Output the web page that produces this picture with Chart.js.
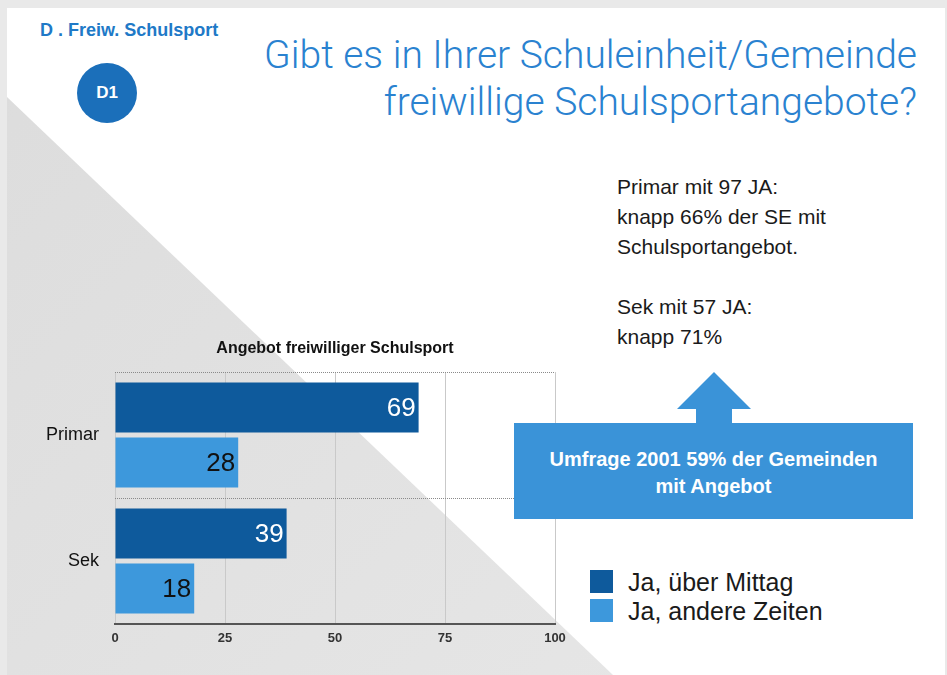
<!DOCTYPE html>
<html>
<head>
<meta charset="utf-8">
<script src="https://cdn.jsdelivr.net/npm/chart.js@4"></script>
<style>
  html, body { margin: 0; padding: 0; }
  body { width: 947px; height: 675px; background: #e9e9e9; position: relative; overflow: hidden;
         font-family: "Liberation Sans", Arial, Helvetica, sans-serif; }
  #slide { position: absolute; left: 7px; top: 8px; width: 938px; height: 667px; background: #fff; }
  #tri { position: absolute; left: 0; top: 0; width: 947px; height: 675px;
         background: linear-gradient(135deg, #dcdcdc, #e8e8e8);
         clip-path: polygon(7px 97px, 7px 675px, 613px 675px); }
  #kapitel { position: absolute; left: 40px; top: 20px; font-size: 18px; font-weight: bold; color: #2079c7; }
  #badge { position: absolute; left: 77px; top: 63px; width: 60px; height: 60px; border-radius: 50%;
           background: #1b6fba; color: #fff; font-weight: bold; font-size: 17px; line-height: 60px; text-align: center; }
  #frage { position: absolute; right: 30px; top: 32px; text-align: right; font-family: Roboto, "Liberation Sans", sans-serif;
           font-weight: 300; font-size: 39px; line-height: 47px; color: #2a82d0; }
  #notiz { position: absolute; left: 617px; top: 172px; font-size: 21px; line-height: 30px; color: #1a1a1a; }
  #pfeil { position: absolute; left: 677px; top: 372px; width: 0; height: 0;
           border-left: 37px solid transparent; border-right: 37px solid transparent; border-bottom: 37px solid #3a93d8; z-index: 3; }
  #stiel { position: absolute; left: 696px; top: 408px; width: 36px; height: 16px; background: #3a93d8; z-index: 3; }
  #box { position: absolute; left: 514px; top: 423px; width: 399px; height: 96px; background: #3a93d8; z-index: 3;
         color: #fff; font-weight: bold; font-size: 20px; line-height: 27px; text-align: center;
         box-sizing: border-box; padding-top: 23px; }
  #wrap { position: absolute; left: 0; top: 330px; width: 575px; height: 330px; z-index: 2; }
  #legende { position: absolute; left: 590px; top: 570px; font-size: 25px; color: #1a1a1a; }
  #legende div { height: 29px; line-height: 24px; white-space: nowrap; }
  #legende span { display: inline-block; width: 23px; height: 23px; vertical-align: top; margin-right: 15px; }
</style>
</head>
<body>
<div id="slide"></div>
<div id="tri"></div>
<div id="kapitel">D . Freiw. Schulsport</div>
<div id="badge">D1</div>
<div id="frage">Gibt es in Ihrer Schuleinheit/Gemeinde<br>freiwillige Schulsportangebote?</div>
<div id="notiz">Primar mit 97 JA:<br>knapp 66% der SE mit<br>Schulsportangebot.<br><br>Sek mit 57 JA:<br>knapp 71%</div>
<div id="wrap"><canvas id="myChart"></canvas></div>
<div id="pfeil"></div>
<div id="stiel"></div>
<div id="box">Umfrage 2001 59% der Gemeinden<br>mit Angebot</div>
<div id="legende"></div>

<script>
var stufen = ['Primar', 'Sek'];
var serien = ['Ja, über Mittag', 'Ja, andere Zeiten'];
var ueberMittag = [69, 39];
var andereZeiten = [28, 18];
var achsenTicks = [0, 25, 50, 75, 100];

var farben = ['#0e5a9c', '#3d98dc'];
var schrift = '"Liberation Sans", Arial, Helvetica, sans-serif';

// Legende als HTML neben dem Diagramm
var leg = document.getElementById('legende');
serien.forEach(function (s, i) {
    var d = document.createElement('div');
    d.innerHTML = '<span style="background:' + farben[i] + '"></span>' + s;
    leg.appendChild(d);
});

// Werte am Balkenende
var wertLabels = {
    id: 'wertLabels',
    afterDatasetsDraw: function (chart) {
        var ctx = chart.ctx;
        ctx.save();
        ctx.font = '26px ' + schrift;
        ctx.textAlign = 'right';
        ctx.textBaseline = 'middle';
        chart.data.datasets.forEach(function (ds, i) {
            var meta = chart.getDatasetMeta(i);
            meta.data.forEach(function (bar, j) {
                ctx.fillStyle = i === 0 ? '#ffffff' : '#111111';
                ctx.fillText(ds.data[j], bar.x - 3, bar.y + 1);
            });
        });
        ctx.restore();
    }
};

var ctx = document.getElementById('myChart');
var myChart = new Chart(ctx, {
    type: 'bar',
    data: {
        labels: stufen,
        datasets: [{
            label: serien[0],
            backgroundColor: farben[0],
            data: ueberMittag,
            categoryPercentage: 0.873,
            barPercentage: 0.91
        }, {
            label: serien[1],
            backgroundColor: farben[1],
            data: andereZeiten,
            categoryPercentage: 0.873,
            barPercentage: 0.91
        }]
    },
    options: {
        indexAxis: 'y',
        responsive: true,
        maintainAspectRatio: false,
        animation: false,
        layout: { padding: { left: 0, right: 20, top: 0, bottom: 0 } },
        plugins: {
            legend: { display: false },
            tooltip: { enabled: false },
            title: {
                display: true,
                fullSize: false,
                text: 'Angebot freiwilliger Schulsport',
                color: '#111',
                font: { family: schrift, size: 16, weight: 'bold' },
                padding: { top: 9, bottom: 13.8 }
            }
        },
        scales: {
            x: {
                min: 0,
                max: 100,
                afterBuildTicks: function (scale) {
                    scale.ticks = achsenTicks.map(function (v) { return { value: v }; });
                },
                afterFit: function (scale) { scale.height = 36; },
                grid: { color: '#c9c9c9', lineWidth: 1, drawTicks: false },
                border: { display: true, color: '#555', width: 2 },
                ticks: { color: '#333', padding: 7, font: { family: schrift, size: 13, weight: 'bold' } }
            },
            y: {
                afterFit: function (scale) { scale.width = 115; },
                grid: { color: '#8a8a8a', lineWidth: 1, drawTicks: false, offset: true },
                border: { display: false, dash: [1, 1] },
                ticks: { color: '#111', padding: 16, font: { family: schrift, size: 18 } }
            }
        }
    },
    plugins: [wertLabels]
});
</script>
</body>
</html>
